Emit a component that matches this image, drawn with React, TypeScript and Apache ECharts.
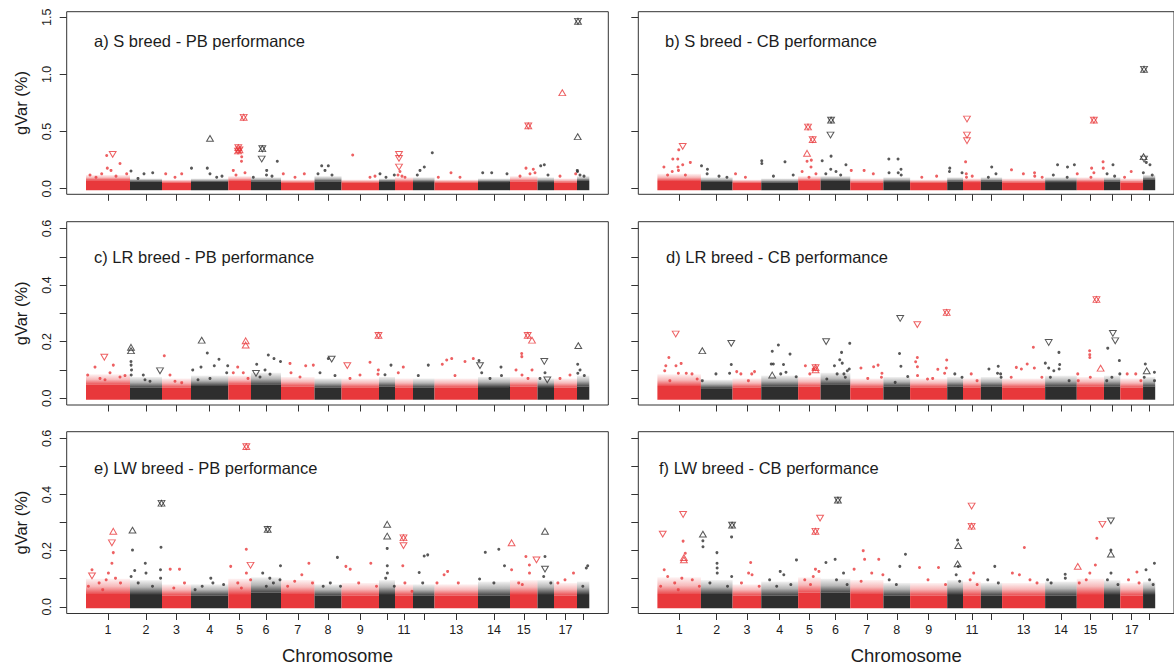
import React, { useEffect, useRef } from "react";
import * as echarts from "echarts";

// ---------------- data ----------------
const chromosomes = [1, 2, 3, 4, 5, 6, 7, 8, 9, 10, 11, 12, 13, 14, 15, 16, 17, 18];
// relative chromosome lengths (cumulative position units)
const chrLengths = [44, 32, 29, 37.3, 22.7, 30, 33.5, 27, 37.5, 16, 18, 21.5, 43.5, 32, 27.5, 16.5, 23, 12.3];
const labelledChromosomes = [1, 2, 3, 4, 5, 6, 7, 8, 9, 11, 13, 14, 15, 17];

const yTicksTop = [0, 0.5, 1.0, 1.5];
const yLabelsTop = [0, 0.5, 1.0, 1.5];
const yTicksLow = [0, 0.1, 0.2, 0.3, 0.4, 0.5, 0.6];
const yLabelsLow = [0, 0.2, 0.4, 0.6];

const panelTitles = [
  "a) S breed - PB performance",
  "b) S breed - CB performance",
  "c) LR breed - PB performance",
  "d) LR breed - CB performance",
  "e) LW breed - PB performance",
  "f) LW breed - CB performance",
];

// dense band of windows per chromosome: solid core top and scattered top (gVar %)
const aCore = [0.06, 0.05, 0.04, 0.045, 0.055, 0.05, 0.04, 0.05, 0.04, 0.05, 0.045, 0.045, 0.04, 0.045, 0.05, 0.045, 0.04, 0.055];
const aFuzz = [0.12, 0.09, 0.08, 0.09, 0.11, 0.1, 0.08, 0.11, 0.08, 0.09, 0.1, 0.1, 0.08, 0.09, 0.11, 0.1, 0.09, 0.11];
const bCore = [0.055, 0.045, 0.04, 0.04, 0.055, 0.055, 0.04, 0.045, 0.04, 0.05, 0.045, 0.05, 0.04, 0.045, 0.045, 0.05, 0.04, 0.065];
const bFuzz = [0.13, 0.1, 0.08, 0.09, 0.11, 0.11, 0.09, 0.1, 0.08, 0.1, 0.09, 0.1, 0.09, 0.1, 0.1, 0.1, 0.09, 0.12];
const cCore = [0.042, 0.032, 0.032, 0.038, 0.042, 0.042, 0.036, 0.032, 0.032, 0.036, 0.032, 0.032, 0.032, 0.034, 0.036, 0.034, 0.032, 0.036];
const cFuzz = [0.085, 0.075, 0.07, 0.08, 0.08, 0.09, 0.075, 0.07, 0.07, 0.075, 0.07, 0.07, 0.07, 0.075, 0.075, 0.07, 0.07, 0.08];
const dCore = [0.038, 0.03, 0.032, 0.036, 0.036, 0.042, 0.032, 0.036, 0.032, 0.036, 0.032, 0.036, 0.032, 0.036, 0.036, 0.036, 0.032, 0.036];
const dFuzz = [0.085, 0.065, 0.07, 0.08, 0.075, 0.09, 0.07, 0.075, 0.07, 0.075, 0.07, 0.075, 0.07, 0.08, 0.075, 0.08, 0.07, 0.075];
const eCore = [0.04, 0.04, 0.035, 0.035, 0.04, 0.045, 0.04, 0.035, 0.035, 0.04, 0.035, 0.035, 0.035, 0.035, 0.04, 0.04, 0.035, 0.04];
const eFuzz = [0.1, 0.095, 0.08, 0.08, 0.1, 0.105, 0.095, 0.08, 0.085, 0.095, 0.08, 0.08, 0.08, 0.09, 0.095, 0.095, 0.085, 0.09];
const fCore = [0.04, 0.04, 0.035, 0.035, 0.045, 0.045, 0.04, 0.035, 0.035, 0.04, 0.035, 0.035, 0.035, 0.035, 0.04, 0.04, 0.035, 0.04];
const fFuzz = [0.105, 0.095, 0.08, 0.09, 0.105, 0.1, 0.095, 0.085, 0.085, 0.095, 0.09, 0.085, 0.085, 0.09, 0.1, 0.095, 0.085, 0.09];

// scattered windows [cumulative position, gVar %]
const aDots = [
  [20.7, 0.29], [34, 0.22], [21.3, 0.18], [15.7, 0.13], [4, 0.12], [40.7, 0.13], [25, 0.16], [10, 0.1], [30, 0.11],
  [45, 0.155], [58, 0.13], [66.7, 0.14], [52, 0.09],
  [79.7, 0.13], [95.7, 0.13], [89, 0.1],
  [105.5, 0.18], [121.3, 0.18], [124, 0.13], [130.7, 0.1], [136, 0.11],
  [155.7, 0.28], [155.5, 0.24], [147.3, 0.16], [159, 0.14], [150, 0.12],
  [191.3, 0.24], [167.3, 0.1], [180.7, 0.16], [180.5, 0.12], [186, 0.11],
  [197.3, 0.13], [218.3, 0.13], [209, 0.1],
  [235.7, 0.2], [242.3, 0.2], [239, 0.16], [232, 0.13], [246, 0.12],
  [266.7, 0.295], [284, 0.1], [289, 0.11],
  [294, 0.13], [308.3, 0.12], [300, 0.1],
  [314, 0.15], [316, 0.11], [312, 0.12], [319, 0.1],
  [346.3, 0.315], [338.3, 0.19], [334, 0.16], [331.3, 0.12],
  [365, 0.14], [352.3, 0.1], [374, 0.1],
  [396.7, 0.14], [405.7, 0.14], [421, 0.13],
  [440, 0.18], [447.3, 0.17], [444, 0.13], [434, 0.11], [449, 0.14],
  [454.7, 0.2], [458.3, 0.21], [462, 0.12],
  [489.7, 0.13], [474, 0.11],
  [491.3, 0.16], [491.5, 0.15], [494, 0.12], [498, 0.11],
];
const aUp = [[124, 0.44], [476.3, 0.84], [491.7, 0.455]];
const aDown = [[26.7, 0.3], [175.7, 0.26], [313, 0.3], [313, 0.265], [313, 0.19]];
const aBoth = [[157.7, 0.625], [152.3, 0.36], [153.5, 0.34], [152, 0.33], [176.3, 0.35], [442.3, 0.55], [492, 1.465]];

const bDots = [
  [21.6, 0.34], [15.6, 0.26], [20.6, 0.26], [6.6, 0.19], [25.6, 0.21], [33.3, 0.23], [20.8, 0.19], [21.3, 0.16], [15, 0.15], [10.3, 0.12], [28.3, 0.12],
  [44.6, 0.2], [50.6, 0.17], [50.3, 0.13], [62.3, 0.11], [70.3, 0.1],
  [89, 0.1], [79, 0.13],
  [105.5, 0.245], [105.6, 0.22], [129, 0.235], [117.3, 0.11], [137.3, 0.12],
  [151.3, 0.24], [155.6, 0.25], [155.3, 0.19], [146.3, 0.15], [153.3, 0.1], [160.3, 0.13],
  [175.6, 0.285], [166.6, 0.245], [190.6, 0.21], [175.3, 0.17], [180.6, 0.15], [185.3, 0.12], [170.3, 0.13],
  [196, 0.16], [209, 0.16], [218.3, 0.13],
  [234, 0.26], [243.3, 0.26], [246.3, 0.17], [234.2, 0.14], [243.5, 0.14], [246.5, 0.12],
  [267.3, 0.1], [282.3, 0.11],
  [295.6, 0.18], [295.3, 0.15], [308, 0.14],
  [311.6, 0.235], [312.3, 0.13], [312.5, 0.1], [318.3, 0.11],
  [338, 0.19], [334.6, 0.1], [342.3, 0.13],
  [358, 0.165], [370, 0.13], [381.3, 0.14], [381.5, 0.11], [389, 0.1],
  [404.6, 0.21], [414.6, 0.19], [421.6, 0.21], [414.3, 0.1], [400.3, 0.12],
  [439, 0.18], [441.3, 0.14], [438.3, 0.1], [424.5, 0.13], [450.6, 0.235], [450.8, 0.18],
  [460.6, 0.21], [454.6, 0.13], [462.3, 0.11],
  [479, 0.15], [472.3, 0.1],
  [498, 0.21], [491.3, 0.14], [494.3, 0.23], [500.3, 0.12],
];
const bUp = [[151.3, 0.31], [491.5, 0.28]];
const bDown = [[25.6, 0.37], [175, 0.47], [313, 0.61], [313, 0.47], [313, 0.42], [492, 0.26]];
const bBoth = [[152.3, 0.54], [157, 0.43], [175.6, 0.6], [441.3, 0.6], [492, 1.045]];

const cDots = [
  [9, 0.11], [27.3, 0.117], [1.7, 0.082], [24, 0.09], [34, 0.075], [39, 0.08], [14, 0.07], [19, 0.065],
  [45, 0.13], [45.1, 0.117], [57.3, 0.082], [59, 0.065], [45.2, 0.082], [45.5, 0.1], [64, 0.06],
  [78.3, 0.15], [84, 0.082], [95.7, 0.055], [89, 0.06],
  [121.3, 0.16], [106.7, 0.1], [115, 0.11], [128.3, 0.115], [133, 0.138], [141.7, 0.115], [140.7, 0.09], [124, 0.07], [112, 0.065],
  [151.7, 0.11], [147.3, 0.09], [157.3, 0.09], [162, 0.07],
  [170.7, 0.12], [182.3, 0.153], [188, 0.14], [194.5, 0.13], [179, 0.1], [184, 0.085], [174, 0.075],
  [204, 0.123], [219.7, 0.115], [227.3, 0.117], [205, 0.09], [214, 0.075],
  [242.3, 0.14], [234, 0.09], [249, 0.08],
  [284, 0.127], [274, 0.082], [292.3, 0.1], [292, 0.085], [264, 0.07],
  [305, 0.117], [299, 0.083],
  [317.3, 0.11], [312.3, 0.09],
  [342.3, 0.117], [332.3, 0.08],
  [360.7, 0.135], [365.7, 0.14], [356.3, 0.12], [379, 0.13], [387.3, 0.14], [369, 0.08],
  [393, 0.133], [395.7, 0.09], [415, 0.11], [415.5, 0.08], [404, 0.07],
  [435.7, 0.158], [435.8, 0.147], [430, 0.1], [436, 0.082], [446, 0.1], [442, 0.07],
  [459, 0.09], [454, 0.07],
  [484, 0.082], [474, 0.07],
  [491.7, 0.12], [491.8, 0.088], [498.3, 0.08], [494, 0.1],
];
const cUp = [[45, 0.18], [45, 0.168], [115.7, 0.205], [159.7, 0.203], [159.7, 0.188], [446, 0.205], [492.3, 0.186]];
const cDown = [[18.3, 0.145], [74, 0.097], [170, 0.088], [245.7, 0.138], [261.3, 0.115], [394, 0.115], [458.3, 0.13], [461.3, 0.065]];
const cBoth = [[292.5, 0.222], [441.7, 0.222]];

const dDots = [
  [11.6, 0.144], [8.5, 0.115], [7.4, 0.097], [24, 0.123], [18.8, 0.115], [21.2, 0.088], [29.2, 0.088], [35, 0.086], [40.2, 0.068], [12.6, 0.062],
  [59.2, 0.086], [45.4, 0.062], [74.7, 0.119], [73, 0.088],
  [80.2, 0.094], [84.4, 0.086], [98.2, 0.094], [95.4, 0.086], [92, 0.062],
  [122.3, 0.188], [116.1, 0.166], [134.1, 0.156], [117.2, 0.121], [115.1, 0.121], [127.5, 0.119], [130, 0.092], [124.7, 0.086], [140.3, 0.076],
  [149.6, 0.115], [154.1, 0.086], [157.5, 0.103],
  [194.5, 0.194], [186.2, 0.162], [184.4, 0.136], [186.9, 0.124], [179, 0.115], [192, 0.097], [194, 0.103], [181.7, 0.086], [188.6, 0.086], [190, 0.074], [171.3, 0.068],
  [205.8, 0.107], [223.1, 0.117], [218.6, 0.111], [227, 0.088], [226.5, 0.074], [212.7, 0.07],
  [244.8, 0.158], [246.2, 0.113], [253.1, 0.077], [240.4, 0.056],
  [262.8, 0.144], [261.1, 0.129], [262.9, 0.111], [263, 0.08], [283.5, 0.102], [292.5, 0.135], [292.1, 0.107], [290.4, 0.088], [273.1, 0.068], [278.3, 0.07],
  [300.7, 0.086], [308, 0.074],
  [317.3, 0.086], [323.2, 0.062],
  [335.2, 0.103], [344.6, 0.113], [343.9, 0.088], [347, 0.086], [347.5, 0.074],
  [362.9, 0.109], [373.9, 0.121], [380.1, 0.18], [381.1, 0.107], [368, 0.103], [357.7, 0.074], [388.7, 0.074],
  [406, 0.162], [406.7, 0.119], [392.2, 0.124], [395.6, 0.107], [400.8, 0.097], [406.2, 0.103], [397.3, 0.074], [416.3, 0.062],
  [437, 0.168], [437.1, 0.154], [437.2, 0.144], [437.7, 0.074], [425, 0.086], [425.5, 0.062],
  [455.3, 0.177], [467.1, 0.133], [467.5, 0.086], [459.5, 0.074], [454.3, 0.062],
  [475, 0.086], [483.6, 0.086], [488.8, 0.062],
  [493.3, 0.121], [502.5, 0.092], [492.2, 0.074], [502.6, 0.062],
];
const dUp = [[45.4, 0.168], [116.1, 0.082], [159.9, 0.1], [448.1, 0.106], [494.7, 0.097]];
const dDown = [[18.5, 0.227], [74.7, 0.194], [170.6, 0.2], [245.5, 0.282], [262.8, 0.26], [395.6, 0.197], [460.5, 0.229], [462.9, 0.203]];
const dBoth = [[159.9, 0.108], [292.5, 0.303], [443.9, 0.349]];

const eDots = [
  [27.3, 0.193], [25.9, 0.155], [22.4, 0.12], [20.2, 0.096], [13.1, 0.085], [6, 0.132], [34.5, 0.085], [2.4, 0.073], [29.5, 0.102], [16.7, 0.061],
  [46.5, 0.202], [48.7, 0.129], [59.3, 0.155], [60, 0.12], [45.1, 0.108], [52.2, 0.085], [75, 0.212], [74.5, 0.132], [74.6, 0.102], [66.5, 0.073],
  [84.2, 0.134], [93.5, 0.134], [98.5, 0.085], [87.8, 0.067],
  [124.8, 0.102], [126.9, 0.085], [116.2, 0.073], [137.6, 0.079], [109.1, 0.061],
  [160.3, 0.205], [144.7, 0.144], [160.4, 0.12], [164.6, 0.096], [151.8, 0.085], [155.4, 0.067],
  [176.7, 0.12], [194.5, 0.146], [187.4, 0.085], [183.8, 0.102], [180.3, 0.073], [194, 0.096],
  [222.9, 0.155], [215.8, 0.114], [208.7, 0.091], [226.5, 0.085], [201.6, 0.073],
  [251.4, 0.176], [244.3, 0.085], [254.5, 0.073], [237.2, 0.073],
  [259.9, 0.144], [264.2, 0.134], [284.8, 0.155], [272.7, 0.085], [290.5, 0.073],
  [301.2, 0.208], [301.3, 0.146], [301.4, 0.12], [299.7, 0.102], [308.3, 0.073],
  [316.8, 0.146], [318.9, 0.085], [326, 0.055],
  [338.2, 0.181], [341.7, 0.185], [333.2, 0.122], [336.7, 0.085],
  [361.6, 0.126], [358.1, 0.114], [372.3, 0.085], [351, 0.085],
  [399.3, 0.194], [412.8, 0.205], [418.5, 0.146], [393.6, 0.099], [407.9, 0.085],
  [425.6, 0.132], [439.9, 0.179], [443.4, 0.149], [443.5, 0.12], [432.7, 0.085], [436.3, 0.079],
  [459, 0.179], [457.7, 0.108], [464.8, 0.085],
  [487.5, 0.12], [479, 0.096], [471.9, 0.085],
  [501.7, 0.146], [500.3, 0.138], [496.8, 0.073],
];
const eUp = [[27.3, 0.269], [46.5, 0.273], [301.2, 0.294], [301.2, 0.252], [425.6, 0.228], [459, 0.269]];
const eDown = [[25.9, 0.228], [6, 0.11], [317.5, 0.218], [164.5, 0.148], [450.5, 0.167], [459, 0.134]];
const eBoth = [[160.3, 0.571], [75.5, 0.369], [181.7, 0.276], [317.5, 0.246]];

const fDots = [
  [26, 0.234], [28.2, 0.191], [6.9, 0.132], [10.4, 0.108], [24.7, 0.102], [17.5, 0.085], [35.3, 0.096], [3.3, 0.073], [42.4, 0.073], [21.1, 0.061],
  [46, 0.235], [46.1, 0.214], [60.2, 0.193], [60.3, 0.155], [60.4, 0.138], [60.5, 0.12], [75, 0.249], [75.1, 0.108], [53.1, 0.085], [70.9, 0.073],
  [94.3, 0.158], [92.2, 0.12], [95.7, 0.114], [85, 0.085], [102.9, 0.073],
  [140.6, 0.167], [124.2, 0.126], [127.8, 0.114], [113.5, 0.096], [134.9, 0.079], [120.6, 0.073],
  [159.8, 0.134], [163.3, 0.126], [157.6, 0.108], [149, 0.096], [154.8, 0.079],
  [179.7, 0.169], [170.4, 0.158], [188.2, 0.12], [181.1, 0.096], [191.8, 0.079],
  [208.1, 0.2], [209.5, 0.169], [223.8, 0.169], [198.9, 0.134], [216.7, 0.12], [228, 0.114], [206, 0.091],
  [250.8, 0.187], [245.1, 0.144], [234.4, 0.096], [241.6, 0.079],
  [265, 0.14], [284.2, 0.14], [273.6, 0.096], [291.3, 0.079],
  [303.5, 0.238], [304.2, 0.144], [302.1, 0.114], [305.6, 0.091],
  [319.8, 0.12], [316.2, 0.096], [323.3, 0.079],
  [341.1, 0.144], [334, 0.096], [344.7, 0.085],
  [371, 0.211], [358.9, 0.12], [366, 0.114], [383.8, 0.085], [376.7, 0.096],
  [412.3, 0.116], [412.4, 0.102], [398.1, 0.085], [394.5, 0.096],
  [444.3, 0.244], [442.8, 0.149], [437.2, 0.12], [433.6, 0.096], [426.5, 0.085],
  [458.5, 0.202], [458.6, 0.12], [455, 0.096], [465.6, 0.079],
  [484.8, 0.124], [476.3, 0.096], [487, 0.085],
  [502.5, 0.155], [494, 0.132], [497.6, 0.096], [501.2, 0.079],
];
const fUp = [[26.8, 0.175], [26.8, 0.167], [46, 0.259], [304.2, 0.218], [303.5, 0.153], [425, 0.144], [458.5, 0.188]];
const fDown = [[5.4, 0.259], [26, 0.329], [164.5, 0.316], [317.7, 0.359], [449.9, 0.294], [458.5, 0.306]];
const fBoth = [[75.5, 0.291], [159.8, 0.269], [182.5, 0.38], [317.7, 0.287]];

// ---------------- layout / style ----------------
const FONT = "'Liberation Sans', Arial, Helvetica, sans-serif";
const RED = "#e8383b";
const BLACK = "#2e2e2e";
const RED_RGB = "232,56,59";
const BLACK_RGB = "46,46,46";
const INK = "#1c1c1c";
const GRID_LEFT = [66.7, 638.3];
const GRID_TOP = [11.7, 221.7, 431.7];
const GRID_H = [182.6, 183.3, 183.3];
const GRID_W = 541.6;
const X_MIN = -19.3;
const X_MAX = 522.3;
const Y_RANGE_TOP: [number, number] = [-0.049, 1.549];
const Y_RANGE_LOW: [number, number] = [-0.024, 0.624];
const TITLE_LEFT = [94, 665, 94, 666, 94, 659];
const TITLE_TOP = [32, 32, 248.5, 248, 459, 459];

function buildOption() {
  const starts: number[] = [];
  chrLengths.forEach((l, i) => starts.push(i === 0 ? 0 : starts[i - 1] + chrLengths[i - 1]));
  const mids = starts.map((s, i) => s + chrLengths[i] / 2);
  const labelMids = labelledChromosomes.map((c) => mids[chromosomes.indexOf(c)]);
  const chrIndexOf = (g: number) => {
    for (let i = chrLengths.length - 1; i >= 0; i--) if (g >= starts[i]) return i;
    return 0;
  };
  const colorOf = (g: number) => (chrIndexOf(g) % 2 === 0 ? RED : BLACK);

  const panels = [
    { dots: aDots, up: aUp, down: aDown, both: aBoth, core: aCore, fuzz: aFuzz },
    { dots: bDots, up: bUp, down: bDown, both: bBoth, core: bCore, fuzz: bFuzz },
    { dots: cDots, up: cUp, down: cDown, both: cBoth, core: cCore, fuzz: cFuzz },
    { dots: dDots, up: dUp, down: dDown, both: dBoth, core: dCore, fuzz: dFuzz },
    { dots: eDots, up: eUp, down: eDown, both: eBoth, core: eCore, fuzz: eFuzz },
    { dots: fDots, up: fUp, down: fDown, both: fBoth, core: fCore, fuzz: fFuzz },
  ];

  const grid: any[] = [];
  const xAxis: any[] = [];
  const yAxis: any[] = [];
  const series: any[] = [];
  const title: any[] = [];

  panels.forEach((p, i) => {
    const row = Math.floor(i / 2);
    const col = i % 2;
    grid.push({
      left: GRID_LEFT[col],
      top: GRID_TOP[row],
      width: GRID_W,
      height: GRID_H[row],
      show: true,
      borderColor: "#333",
      borderWidth: 1,
      backgroundColor: "transparent",
    });
    xAxis.push({
      gridIndex: i,
      type: "value",
      position: "bottom",
      min: X_MIN,
      max: X_MAX,
      splitLine: { show: false },
      axisLine: { show: false, onZero: false },
      axisTick: { show: true, customValues: mids, length: 6.5, lineStyle: { color: "#333", width: 1 } },
      axisLabel: {
        show: row === 2,
        customValues: labelMids,
        formatter: (v: number) => {
          const k = mids.findIndex((m) => Math.abs(m - v) < 1e-6);
          return k >= 0 ? String(chromosomes[k]) : "";
        },
        fontSize: 12.5,
        color: INK,
        fontFamily: FONT,
        margin: 10,
      },
      name: row === 2 ? "Chromosome" : "",
      nameLocation: "middle",
      nameGap: 32.5,
      nameTextStyle: { fontSize: 18.5, color: INK, fontFamily: FONT },
    });
    const yr = row === 0 ? Y_RANGE_TOP : Y_RANGE_LOW;
    yAxis.push({
      gridIndex: i,
      type: "value",
      position: "left",
      min: yr[0],
      max: yr[1],
      splitLine: { show: false },
      axisLine: { show: false, onZero: false },
      axisTick: { show: true, customValues: row === 0 ? yTicksTop : yTicksLow, length: 7, lineStyle: { color: "#333", width: 1 } },
      axisLabel: {
        show: col === 0,
        customValues: row === 0 ? yLabelsTop : yLabelsLow,
        rotate: 90,
        formatter: (v: number) => v.toFixed(1),
        fontSize: 12.5,
        color: INK,
        fontFamily: FONT,
        margin: 13,
      },
      name: col === 0 ? "gVar (%)" : "",
      nameLocation: "middle",
      nameRotate: 90,
      nameGap: 37,
      nameTextStyle: { fontSize: 16.5, color: INK, fontFamily: FONT },
    });
    title.push({
      text: panelTitles[i],
      left: TITLE_LEFT[i],
      top: TITLE_TOP[i],
      padding: 0,
      textStyle: { fontSize: 16.5, fontWeight: "normal", color: INK, fontFamily: FONT },
    });

    series.push({
      type: "custom",
      xAxisIndex: i,
      yAxisIndex: i,
      silent: true,
      z: 1,
      data: chrLengths.map((l, k) => [starts[k], starts[k] + l, p.core[k], p.fuzz[k], k]),
      renderItem: (params: any, api: any) => {
        const a = api.coord([api.value(0), 0]);
        const b = api.coord([api.value(1), api.value(2)]);
        const f = api.coord([api.value(1), api.value(3)]);
        const even = api.value(4) % 2 === 0;
        const color = even ? RED : BLACK;
        const rgb = even ? RED_RGB : BLACK_RGB;
        const x = a[0];
        const w = b[0] - a[0];
        const coreTop = b[1] - 1.5;
        return {
          type: "group",
          children: [
            {
              type: "rect",
              shape: { x, y: f[1], width: w, height: coreTop - f[1] },
              style: {
                fill: new echarts.graphic.LinearGradient(0, 0, 0, 1, [
                  { offset: 0, color: `rgba(${rgb},0.06)` },
                  { offset: 0.5, color: `rgba(${rgb},0.35)` },
                  { offset: 1, color: `rgba(${rgb},0.9)` },
                ]),
              },
            },
            { type: "rect", shape: { x, y: coreTop, width: w, height: a[1] - coreTop + 1.5 }, style: { fill: color } },
          ],
        };
      },
    });
    series.push({
      type: "scatter",
      xAxisIndex: i,
      yAxisIndex: i,
      silent: true,
      z: 2,
      symbol: "circle",
      symbolSize: 3,
      data: p.dots.map((d) => ({ value: d, itemStyle: { color: colorOf(d[0]) } })),
    });
    series.push({
      type: "scatter",
      xAxisIndex: i,
      yAxisIndex: i,
      silent: true,
      z: 3,
      symbol: "triangle",
      symbolSize: [6.8, 5.8],
      itemStyle: { color: "rgba(255,255,255,0)", borderWidth: 1 },
      data: [...p.up, ...p.both].map((d) => ({ value: d, itemStyle: { borderColor: colorOf(d[0]) } })),
    });
    series.push({
      type: "scatter",
      xAxisIndex: i,
      yAxisIndex: i,
      silent: true,
      z: 3,
      symbol: "triangle",
      symbolRotate: 180,
      symbolSize: [6.8, 5.8],
      itemStyle: { color: "rgba(255,255,255,0)", borderWidth: 1 },
      data: [...p.down, ...p.both].map((d) => ({ value: d, itemStyle: { borderColor: colorOf(d[0]) } })),
    });
  });

  return {
    animation: false,
    backgroundColor: "#ffffff",
    textStyle: { fontFamily: FONT },
    title,
    grid,
    xAxis,
    yAxis,
    series,
  };
}

export default function App() {
  const ref = useRef<HTMLDivElement>(null);
  useEffect(() => {
    document.body.style.margin = "0";
    document.body.style.overflow = "hidden";
    const chart = echarts.init(ref.current as HTMLDivElement, undefined, { renderer: "svg" });
    chart.setOption(buildOption() as any);
    return () => chart.dispose();
  }, []);
  return <div ref={ref} style={{ width: 1174, height: 666 }} />;
}
